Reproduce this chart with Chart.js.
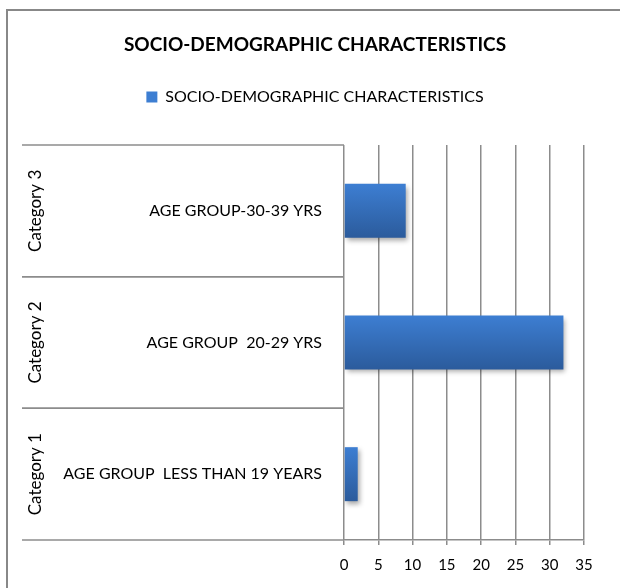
<!DOCTYPE html>
<html>
<head>
<meta charset="utf-8">
<script src="https://cdn.jsdelivr.net/npm/chart.js@4/dist/chart.umd.min.js"></script>
<style>
  html, body { margin: 0; padding: 0; background: #fff; }
  #wrap { width: 620px; height: 588px; }
</style>
</head>
<body>
<div id="wrap"><canvas id="c" width="620" height="588"></canvas></div>
<script>
// Two-level category axis: outer groups and inner age-group labels
const groups = ['Category 1', 'Category 2', 'Category 3'];
const ageGroups = ['AGE GROUP  LESS THAN 19 YEARS', 'AGE GROUP  20-29 YRS', 'AGE GROUP-30-39 YRS'];
const counts = [2, 32, 9];
const xTicks = [0, 5, 10, 15, 20, 25, 30, 35];
const seriesName = 'SOCIO-DEMOGRAPHIC CHARACTERISTICS';
const chartTitle = 'SOCIO-DEMOGRAPHIC CHARACTERISTICS';

const FONT = 'Lato, "Open Sans", sans-serif';
const GRID = '#8c8c8c';
const BAR_FRAC = 0.41;

// Outer frame of the chart object
const framePlugin = {
  id: 'frame',
  beforeDraw(chart) {
    const ctx = chart.ctx;
    ctx.save();
    ctx.fillStyle = '#fff';
    ctx.fillRect(0, 0, chart.width, chart.height);
    ctx.strokeStyle = '#888';
    ctx.lineWidth = 2;
    ctx.beginPath();
    ctx.moveTo(7, chart.height);
    ctx.lineTo(7, 10);
    ctx.lineTo(chart.width, 10);
    ctx.stroke();
    ctx.restore();
  }
};

// Group separators and rotated outer group labels
const groupAxisPlugin = {
  id: 'groupAxis',
  afterDraw(chart) {
    const ys = chart.scales.y;
    const ctx = chart.ctx;
    const right = chart.chartArea.left;
    const left = 22;
    const band = Math.abs(ys.getPixelForValue(1) - ys.getPixelForValue(0));
    ctx.save();
    ctx.strokeStyle = GRID;
    ctx.lineWidth = 1.5;
    groups.forEach((g, i) => {
      const p = ys.getPixelForValue(i);
      [p - band / 2, p + band / 2].forEach(by => {
        ctx.beginPath();
        ctx.moveTo(left, by);
        ctx.lineTo(right, by);
        ctx.stroke();
      });
      ctx.save();
      ctx.translate(36, p);
      ctx.rotate(-Math.PI / 2);
      ctx.fillStyle = '#000';
      ctx.font = '17px ' + FONT;
      ctx.textAlign = 'center';
      ctx.textBaseline = 'middle';
      ctx.fillText(g, 0, 0);
      ctx.restore();
    });
    ctx.restore();
  }
};

// Soft drop shadow under the bars
const shadowPlugin = {
  id: 'barShadow',
  beforeDatasetsDraw(chart) {
    const ctx = chart.ctx;
    ctx.save();
    ctx.shadowColor = 'rgba(0,0,0,0.35)';
    ctx.shadowBlur = 5;
    ctx.shadowOffsetX = 2;
    ctx.shadowOffsetY = 3;
  },
  afterDatasetsDraw(chart) {
    chart.ctx.restore();
  }
};

function barFill(c) {
  const solid = '#3772c2';
  if (c.type !== 'data') return solid;
  const ys = c.chart.scales.y;
  if (!ys) return solid;
  const p = ys.getPixelForValue(c.dataIndex);
  const band = Math.abs(ys.getPixelForValue(1) - ys.getPixelForValue(0));
  if (!isFinite(p) || !isFinite(band) || band === 0) return solid;
  const half = band * BAR_FRAC / 2;
  const g = c.chart.ctx.createLinearGradient(0, p - half, 0, p + half);
  g.addColorStop(0, '#3d7ed2');
  g.addColorStop(1, '#2b5b9c');
  return g;
}

new Chart(document.getElementById('c'), {
  type: 'bar',
  data: {
    labels: ageGroups,
    datasets: [{
      label: seriesName,
      data: counts,
      backgroundColor: barFill,
      borderWidth: 0,
      barPercentage: BAR_FRAC,
      categoryPercentage: 1
    }]
  },
  options: {
    indexAxis: 'y',
    responsive: false,
    devicePixelRatio: 1,
    animation: false,
    layout: { padding: { left: 46, right: 36, top: 0, bottom: 0 } },
    plugins: {
      title: {
        display: true,
        text: chartTitle,
        color: '#000',
        font: { family: FONT, size: 19, weight: 'bold', lineHeight: 1 },
        padding: { top: 35.5, bottom: 4.5 }
      },
      legend: {
        display: true,
        position: 'top',
        labels: {
          color: '#000',
          font: { family: FONT, size: 16 },
          boxWidth: 11,
          boxHeight: 11,
          padding: 30
        }
      },
      tooltip: { enabled: false }
    },
    scales: {
      x: {
        type: 'linear',
        min: 0,
        max: 35,
        afterBuildTicks(s) { s.ticks = xTicks.map(v => ({ value: v })); },
        ticks: { color: '#000', font: { family: FONT, size: 15 }, padding: 11 },
        grid: { color: GRID, lineWidth: 1.5, tickLength: 5, drawTicks: true },
        border: { color: GRID, width: 1.5 },
        afterFit(s) { s.height = 48; }
      },
      // empty band between the legend and the plot
      gap: {
        type: 'linear',
        position: 'top',
        axis: 'x',
        min: 0,
        max: 35,
        display: true,
        grid: { display: false, drawTicks: false },
        border: { display: false },
        ticks: { display: false },
        afterFit(s) { s.height = 30; }
      },
      y: {
        type: 'category',
        reverse: true,
        offset: true,
        grid: { display: false, drawTicks: false },
        border: { display: false },
        ticks: { color: '#000', font: { family: FONT, size: 16 }, padding: 22 },
        afterFit(s) { s.width = 298; }
      }
    }
  },
  plugins: [framePlugin, shadowPlugin, groupAxisPlugin]
});
</script>
</body>
</html>
